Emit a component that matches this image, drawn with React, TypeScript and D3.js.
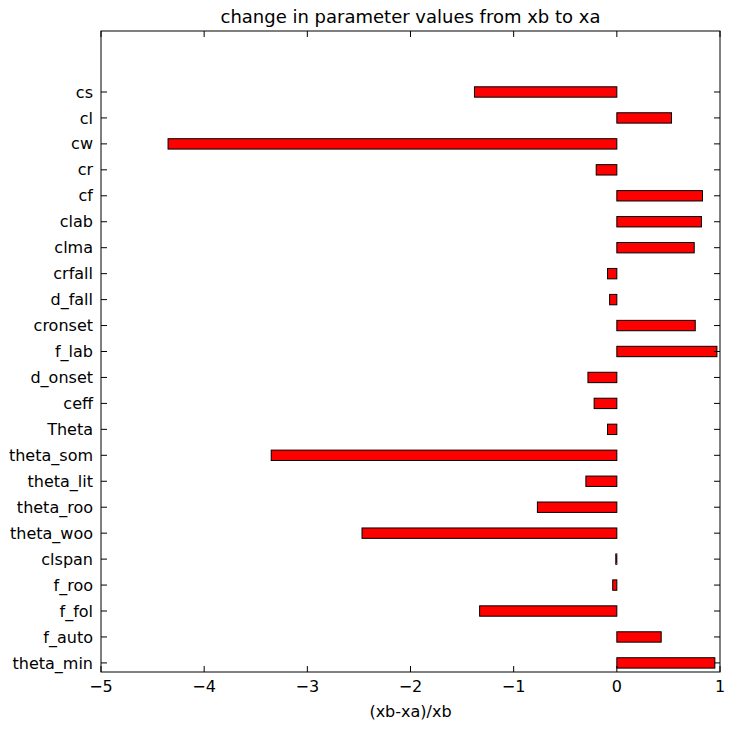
import React from "react";
import * as d3 from "d3";

const CATEGORIES = [
  "theta_min", "f_auto", "f_fol", "f_roo", "clspan", "theta_woo", "theta_roo",
  "theta_lit", "theta_som", "Theta", "ceff", "d_onset", "f_lab", "cronset",
  "d_fall", "crfall", "clma", "clab", "cf", "cr", "cw", "cl", "cs",
];
const VALUES = [
  0.95, 0.43, -1.33, -0.04, -0.01, -2.47, -0.77,
  -0.3, -3.35, -0.09, -0.22, -0.28, 0.97, 0.76,
  -0.07, -0.09, 0.75, 0.82, 0.83, -0.2, -4.35, 0.53, -1.38,
];
const X_TICKS = [-5, -4, -3, -2, -1, 0, 1];

const W = 734;
const H = 730;
const M = { top: 31, right: 14, bottom: 58, left: 101 };
const FONT = "DejaVu Sans, sans-serif";

export default function App() {
  const iW = W - M.left - M.right;
  const iH = H - M.top - M.bottom;
  const x = d3.scaleLinear().domain([-5, 1]).range([0, iW]);
  const y = d3.scaleLinear().domain([-0.35, 24.35]).range([iH, 0]);
  const bh = y(0) - y(0.4);

  return (
    <svg width={W} height={H} style={{ position: "absolute", left: 0, top: 0, fontFamily: FONT }}>
      <rect width={W} height={H} fill="#fff" />
      <text x={M.left + iW / 2} y={M.top - 8} textAnchor="middle" fontSize={18}>
        change in parameter values from xb to xa
      </text>
      <g transform={`translate(${M.left},${M.top})`}>
        {VALUES.map((v, i) => (
          <rect
            key={i}
            x={x(Math.min(0, v))}
            width={Math.abs(x(v) - x(0))}
            y={y(i) - bh / 2}
            height={bh}
            fill="#ff0000"
            stroke="#000"
            strokeWidth={1}
          />
        ))}
        <rect width={iW} height={iH} fill="none" stroke="#000" strokeWidth={1} />
        {X_TICKS.map((t) => (
          <g key={t}>
            <line x1={x(t)} x2={x(t)} y1={iH} y2={iH - 6} stroke="#000" />
            <line x1={x(t)} x2={x(t)} y1={0} y2={6} stroke="#000" />
            <text x={x(t)} y={iH + 20} textAnchor="middle" fontSize={16}>
              {t < 0 ? `\u2212${-t}` : t}
            </text>
          </g>
        ))}
        {CATEGORIES.map((c, i) => (
          <g key={c}>
            <line x1={0} x2={6} y1={y(i)} y2={y(i)} stroke="#000" />
            <line x1={iW} x2={iW - 6} y1={y(i)} y2={y(i)} stroke="#000" />
            <text x={-8} y={y(i)} dy="0.35em" textAnchor="end" fontSize={16}>
              {c}
            </text>
          </g>
        ))}
        <text x={iW / 2} y={iH + 45} textAnchor="middle" fontSize={16}>
          (xb-xa)/xb
        </text>
      </g>
    </svg>
  );
}
